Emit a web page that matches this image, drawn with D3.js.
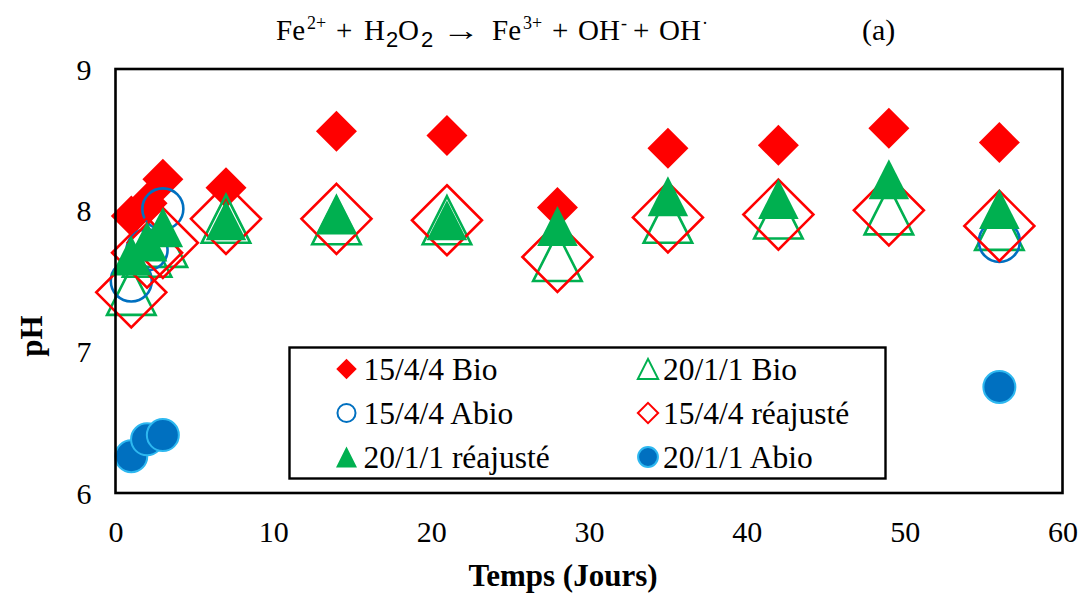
<!DOCTYPE html>
<html>
<head>
<meta charset="utf-8">
<script src="https://cdn.jsdelivr.net/npm/d3@7"></script>
<style>
  html, body { margin: 0; padding: 0; background: #fff; }
  svg { display: block; }
  svg text { font-family: "Liberation Serif", "Times New Roman", Times, serif; fill: #000; }
</style>
</head>
<body>
<svg id="chart" width="1082" height="596"></svg>
<script>
// Sampling days
const days = [1, 2, 3, 7, 14, 21, 28, 35, 42, 49, 56];
const abioDays = [1, 2, 3, 56];

// pH per series
const bio1544 = [7.96, 8.05, 8.22, 8.16, 8.56, 8.53, 8.02, 8.44, 8.46, 8.58, 8.48];
const bio2011 = [7.43, 7.70, 7.77, 7.94, 7.93, 7.93, 7.67, 7.94, 7.97, 8.00, 7.89];
const abio1544 = [7.50, 7.72, 8.01, 7.78];
const reaj1544 = [7.42, 7.70, 7.77, 7.94, 7.94, 7.93, 7.67, 7.95, 7.97, 8.00, 7.89];
const reaj2011 = [7.68, 7.78, 7.88, 7.93, 7.97, 7.93, 7.89, 8.10, 8.08, 8.22, 8.01];
const abio2011 = [6.26, 6.38, 6.41, 6.75];

const xTicks = [0, 10, 20, 30, 40, 50, 60];
const yTicks = [6, 7, 8, 9];

const RED = "#FF0000", GREEN = "#00B050", BLUE = "#0070C0", LIGHTBLUE = "#2EB8F0";
const SERIF = "'Liberation Serif', 'Times New Roman', Times, serif";

const svg = d3.select("#chart");
const plotLeft = 115.5, plotRight = 1062.5, plotTop = 69, plotBottom = 493;

const x = d3.scaleLinear().domain([0, 60]).range([plotLeft, plotRight]);
const y = d3.scaleLinear().domain([6, 9]).range([plotBottom, plotTop]);

// Marker shapes
const diamondPath = h => `M0,${-h}L${h},0L0,${h}L${-h},0Z`;
const trianglePath = (w, h) => `M0,${-h / 2}L${w / 2},${h / 2}L${-w / 2},${h / 2}Z`;

const markers = {
  diamondFill: (g, s) => g.append("path").attr("d", diamondPath(20.5 * s)).attr("fill", RED),
  triangleOpen: (g, s) => g.append("path").attr("d", trianglePath(48.5 * s, 48 * s))
      .attr("fill", "none").attr("stroke", GREEN).attr("stroke-width", s < 1 ? 2 : 2.6),
  circleOpen: (g, s) => g.append("circle").attr("r", 20.5 * s)
      .attr("fill", "none").attr("stroke", BLUE).attr("stroke-width", s < 1 ? 2 : 2.6),
  diamondOpen: (g, s) => g.append("path").attr("d", diamondPath(35 * s))
      .attr("fill", "none").attr("stroke", RED).attr("stroke-width", s < 1 ? 2 : 2.6),
  triangleFill: (g, s) => g.append("path").attr("d", trianglePath(40.5 * s, 40 * s)).attr("fill", GREEN),
  circleFill: (g, s) => g.append("circle").attr("r", 16 * s)
      .attr("fill", BLUE).attr("stroke", LIGHTBLUE).attr("stroke-width", 2)
};

const series = [
  { name: "15/4/4 Bio", xs: days, ys: bio1544, marker: "diamondFill", legendScale: 0.5 },
  { name: "20/1/1 Bio", xs: days, ys: bio2011, marker: "triangleOpen", legendScale: 0.42 },
  { name: "15/4/4 Abio", xs: abioDays, ys: abio1544, marker: "circleOpen", legendScale: 0.44 },
  { name: "15/4/4 réajusté", xs: days, ys: reaj1544, marker: "diamondOpen", legendScale: 0.29 },
  { name: "20/1/1 réajusté", xs: days, ys: reaj2011, marker: "triangleFill", legendScale: 0.52 },
  { name: "20/1/1 Abio", xs: abioDays, ys: abio2011, marker: "circleFill", legendScale: 0.62 }
];

// Data points, drawn in series order
const plot = svg.append("g");
series.forEach(s => {
  const pts = s.xs.map((d, i) => ({ day: d, ph: s.ys[i] }));
  plot.append("g").selectAll("g").data(pts).join("g")
    .attr("transform", d => `translate(${x(d.day)},${y(d.ph)})`)
    .each(function () { markers[s.marker](d3.select(this), 1); });
});

// Plot frame
svg.append("rect")
  .attr("x", plotLeft).attr("y", plotTop)
  .attr("width", plotRight - plotLeft).attr("height", plotBottom - plotTop)
  .attr("fill", "none").attr("stroke", "#000").attr("stroke-width", 2.6);

// Axes (labels only, no tick marks)
const xAxis = d3.axisBottom(x).tickValues(xTicks).tickFormat(d3.format("d")).tickSize(0).tickPadding(0);
const gx = svg.append("g").attr("transform", `translate(0,${plotBottom})`).call(xAxis)
  .attr("font-family", SERIF).attr("font-size", 30);
gx.select(".domain").remove();
gx.selectAll("text").attr("dy", null).attr("y", 49);

const yAxis = d3.axisLeft(y).tickValues(yTicks).tickFormat(d3.format("d")).tickSize(0).tickPadding(0);
const gy = svg.append("g").attr("transform", `translate(${plotLeft},0)`).call(yAxis)
  .attr("font-family", SERIF).attr("font-size", 30);
gy.select(".domain").remove();
gy.selectAll("text").attr("x", -24).attr("dy", 10);

// Axis titles
svg.append("text")
  .attr("x", 563).attr("y", 586)
  .attr("text-anchor", "middle").attr("font-size", 31).attr("font-weight", "bold")
  .text("Temps (Jours)");

svg.append("text")
  .attr("transform", "translate(42,336) rotate(-90)")
  .attr("text-anchor", "middle").attr("font-size", 31).attr("font-weight", "bold")
  .text("pH");

// Reaction equation: each piece placed at its own x, with sub/superscript offsets
const eqPieces = [
  { t: "Fe", x: 276, dy: 0, fs: 29 },
  { t: "2+", x: 307, dy: -11, fs: 18 },
  { t: "+", x: 336, dy: 0, fs: 29 },
  { t: "H", x: 364, dy: 0, fs: 29 },
  { t: "2", x: 386, dy: 7, fs: 22, sans: true },
  { t: "O", x: 398, dy: 0, fs: 29 },
  { t: "2", x: 421, dy: 7, fs: 22, sans: true },
  { t: "\u2192", x: 442, dy: 0, fs: 29, len: 38 },
  { t: "Fe", x: 492, dy: 0, fs: 29 },
  { t: "3+", x: 523, dy: -11, fs: 18 },
  { t: "+", x: 552, dy: 0, fs: 29 },
  { t: "OH", x: 578, dy: 0, fs: 29 },
  { t: "-", x: 621, dy: -11, fs: 18 },
  { t: "+", x: 633, dy: 0, fs: 29 },
  { t: "OH", x: 659, dy: 0, fs: 29 },
  { t: "\u00B7", x: 702, dy: -11, fs: 18 }
];
const eq = svg.append("g");
eqPieces.forEach(p => {
  const t = eq.append("text").attr("x", p.x).attr("y", 40 + p.dy).attr("font-size", p.fs).text(p.t);
  if (p.sans) t.style("font-family", "'Liberation Sans', Arial, sans-serif");
  if (p.len) t.attr("textLength", p.len).attr("lengthAdjust", "spacingAndGlyphs");
});

svg.append("text").attr("x", 862).attr("y", 40).attr("font-size", 30).text("(a)");

// Legend
const legend = svg.append("g");
legend.append("rect")
  .attr("x", 289.5).attr("y", 347.5).attr("width", 596).attr("height", 131)
  .attr("fill", "#fff").attr("stroke", "#000").attr("stroke-width", 2.4);

const colX = [346.5, 648];
const rowY = [369, 413, 457];
series.forEach((s, i) => {
  const cx = colX[i % 2], cy = rowY[Math.floor(i / 2)];
  const g = legend.append("g").attr("transform", `translate(${cx},${cy})`);
  markers[s.marker](g, s.legendScale);
  legend.append("text")
    .attr("x", cx + (i % 2 ? 15 : 17)).attr("y", cy + 11)
    .attr("font-size", 31.5).text(s.name);
});
</script>
</body>
</html>
